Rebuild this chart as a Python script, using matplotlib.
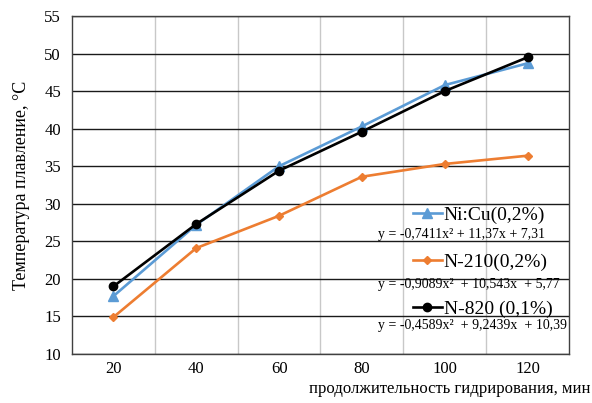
import numpy as np
import matplotlib.pyplot as plt

plt.rcParams['font.family'] = ['Liberation Serif', 'DejaVu Serif']

minutes = ['20', '40', '60', '80', '100', '120']
nicu = [17.7, 27.2, 35.0, 40.3, 45.8, 48.7]
n210 = [14.9, 24.1, 28.4, 33.6, 35.3, 36.4]
n820 = [19.0, 27.3, 34.4, 39.6, 45.0, 49.5]

labels = ['Ni:Cu(0,2%)', 'N-210(0,2%)', 'N-820 (0,1%)']
equations = ['y = -0,7411x² + 11,37x + 7,31',
             'y = -0,9089x²  + 10,543x  + 5,77',
             'y = -0,4589x²  + 9,2439x  + 10,39']

fig = plt.figure(figsize=(5.92, 4.03), dpi=100)
ax = fig.add_axes([0.1216, 0.1216, 0.8395, 0.8387])

x = np.arange(len(minutes))
l1, = ax.plot(x, nicu, color='#5b9bd5', lw=1.9, marker='^', ms=7, zorder=3)
l2, = ax.plot(x, n210, color='#ed7d31', lw=1.9, marker='D', ms=4, zorder=3)
l3, = ax.plot(x, n820, color='black', lw=1.9, marker='o', ms=6, zorder=4)

ax.set_xlim(-0.5, len(minutes) - 0.5)
ax.set_ylim(10, 55)
ax.set_yticks(range(10, 56, 5))
ax.set_xticks(x)
ax.set_xticklabels(minutes)
ax.set_xticks(x[:-1] + 0.5, minor=True)
ax.tick_params(which='both', length=0, labelsize=12)
ax.tick_params(axis='x', pad=5)
ax.tick_params(axis='y', pad=8)
ax.grid(axis='y', which='major', color='#1a1a1a', lw=1.0)
ax.grid(axis='x', which='minor', color='#c8c8c8', lw=1.0)
ax.set_axisbelow(True)
for s in ax.spines.values():
    s.set_color('#404040')
    s.set_linewidth(1.0)

ax.set_ylabel('Температура плавление, °С', fontsize=13, labelpad=10)
fig.text(0.997, 0.015, 'продолжительность гидрирования, мин',
         ha='right', va='bottom', fontsize=12)

leg = ax.legend([l1, l2, l3], labels, loc='upper left',
                bbox_to_anchor=(0.666, 0.466), frameon=False, fontsize=14,
                handlelength=1.5, handletextpad=0.1, labelspacing=1.5,
                borderpad=0)

eq_y = [0.355, 0.205, 0.085]
for ey, eq in zip(eq_y, equations):
    ax.text(0.615, ey, eq, transform=ax.transAxes, fontsize=10,
            ha='left', va='center')

fig.savefig('out.png', dpi=100)
